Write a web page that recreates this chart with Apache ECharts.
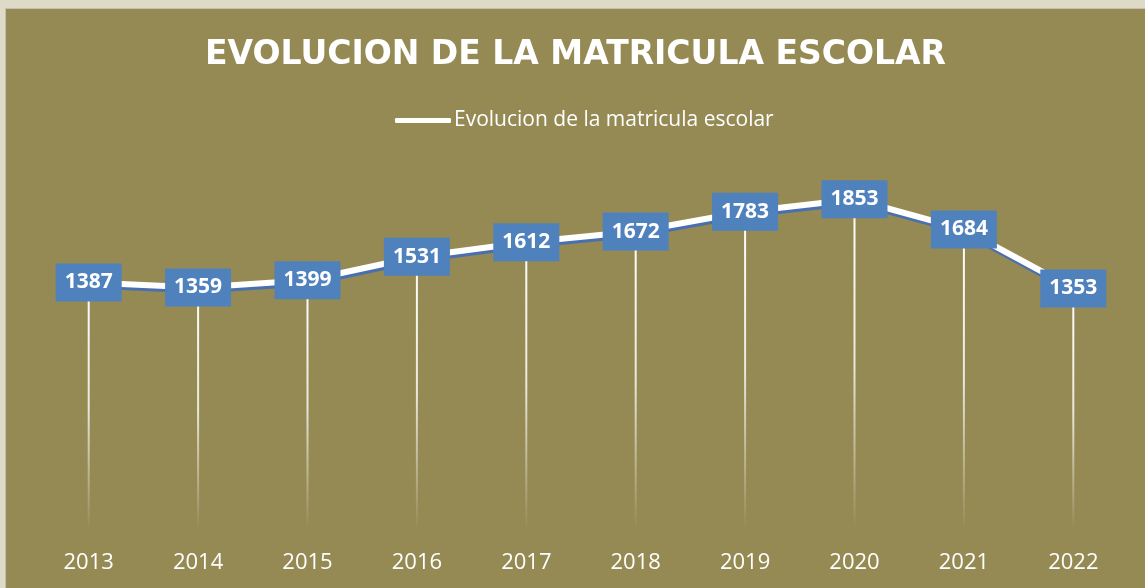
<!DOCTYPE html>
<html>
<head>
<meta charset="utf-8">
<script src="https://cdn.jsdelivr.net/npm/echarts@6/dist/echarts.min.js"></script>
<style>
	html, body { margin: 0; padding: 0; background: #dedac8; overflow: hidden; }
	#chart { position: absolute; left: 5px; top: 8px; width: 1140px; height: 580px; border-top: 1px solid #c4c0b0; border-left: 1px solid #c4c0b0; box-sizing: border-box; }
</style>
</head>
<body>
<div id="chart"></div>
<script>
// 数据
const years = ['2013', '2014', '2015', '2016', '2017', '2018', '2019', '2020', '2021', '2022'];
const matricula = [1387, 1359, 1399, 1531, 1612, 1672, 1783, 1853, 1684, 1353];
const seriesName = 'Evolucion de la matricula escolar';
const chartTitle = 'EVOLUCION DE LA MATRICULA ESCOLAR';

const chart = echarts.init(document.getElementById('chart'));

chart.setOption({
	backgroundColor: '#958a54',
	animation: false,
	title: {
		text: chartTitle,
		left: 'center',
		top: 25,
		textStyle: {
			color: '#ffffff',
			fontFamily: 'DejaVu Sans',
			fontWeight: 'bold',
			fontSize: 33
		}
	},
	legend: {
		data: [{ name: seriesName, icon: 'roundRect' }],
		left: 384,
		top: 96,
		itemWidth: 56,
		itemHeight: 5,
		itemGap: 10,
		itemStyle: { color: '#ffffff' },
		textStyle: { color: '#ffffff', fontFamily: 'Open Sans', fontSize: 21, padding: [0, 0, 0, -2] }
	},
	grid: { left: 28, right: 17, top: 164, bottom: 58 },
	xAxis: {
		type: 'category',
		data: years,
		axisLine: { show: false },
		axisTick: { show: false },
		axisLabel: { color: '#ffffff', fontFamily: 'Open Sans', fontSize: 22, margin: 22 }
	},
	yAxis: {
		type: 'value',
		min: 0,
		max: 2000,
		show: false,
		splitLine: { show: false }
	},
	series: [
		// 垂直线（渐隐）
		{
			name: 'drop',
			type: 'bar',
			data: matricula,
			barWidth: 2,
			silent: true,
			z: 1,
			itemStyle: {
				color: {
					type: 'linear', x: 0, y: 0, x2: 0, y2: 1,
					colorStops: [
						{ offset: 0, color: 'rgba(255,255,255,1)' },
						{ offset: 0.5, color: 'rgba(255,255,255,0.8)' },
						{ offset: 1, color: 'rgba(255,255,255,0)' }
					]
				}
			}
		},
		// 折线
		{
			name: seriesName,
			type: 'line',
			data: matricula,
			z: 3,
			symbol: 'circle',
			symbolSize: 4,
			itemStyle: { color: '#ffffff' },
			lineStyle: {
				color: '#ffffff',
				width: 6,
				shadowColor: 'rgba(70,110,180,0.95)',
				shadowBlur: 0,
				shadowOffsetX: 1,
				shadowOffsetY: 3
			},
			label: {
				show: true,
				position: 'inside',
				color: '#ffffff',
				fontFamily: 'Open Sans',
				fontWeight: 'bold',
				fontSize: 21,
				lineHeight: 22,
				backgroundColor: '#4f81bd',
				padding: [8, 9, 8, 9]
			}
		}
	]
});
</script>
</body>
</html>
